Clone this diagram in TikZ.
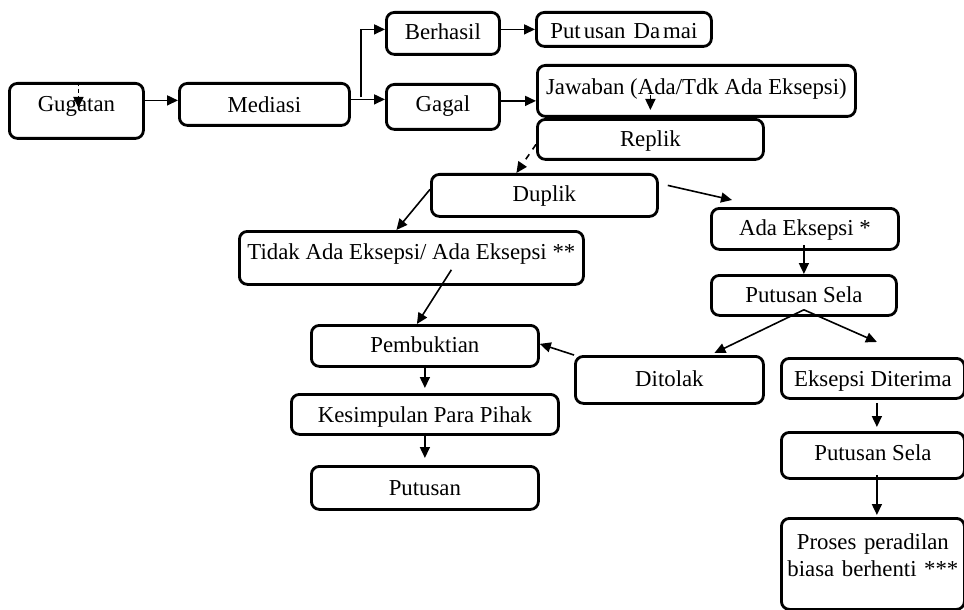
\documentclass[tikz,border=0pt]{standalone}
\usepackage{fontspec}
\setmainfont{Liberation Serif}
\usetikzlibrary{arrows.meta}

\begin{document}
\begin{tikzpicture}[x=0.5pt, y=-0.5pt,
  box/.style={draw, line width=1.4pt, rounded corners=4pt, anchor=north west, inner xsep=0pt, inner ysep=0pt, font=\fontsize{11.4}{13.5}\selectfont},
  arr/.style={line width=0.8pt, -{Triangle[length=5.5pt,width=5pt]}}]
% Fix the picture size (pixel units)
\useasboundingbox (0,0) rectangle (964,610);

% Draw the boxes
\node[box, minimum width=67pt, text height=14pt, text depth=13.5pt] (gugatan) at (8,82) {Gugatan};
\node[box, minimum width=85pt, text height=14.5pt, text depth=6.5pt] (mediasi) at (178,82) {Mediasi};
\node[box, minimum width=56.5pt, text height=13.5pt, text depth=7.5pt] (berhasil) at (385,11) {Berhasil};
\node[box, minimum width=56.5pt, text height=13.5pt, text depth=9pt] (gagal) at (385,83) {Gagal};
\node[box, minimum width=87.5pt, text height=13pt, text depth=4pt] (damai) at (535,11) {Put\hspace{1.5pt}usan\hspace{4pt}Da\hspace{1.5pt}mai};
\node[box, minimum width=159pt, text height=14.5pt, text depth=11pt] (jawaban) at (536,64) {Jawaban (Ada/Tdk Ada Eksepsi)};
\node[box, minimum width=113pt, text height=13.5pt, text depth=6.5pt] (replik) at (536,118) {Replik};
\node[box, minimum width=113pt, text height=13.5pt, text depth=7.5pt] (duplik) at (430,173) {Duplik};
\node[box, minimum width=172pt, text height=14pt, text depth=12.5pt] (tidak) at (238,230) {Tidak Ada Eksepsi/ Ada Eksepsi **};
\node[box, minimum width=93.5pt, text height=13.5pt, text depth=7pt] (ada) at (710,207) {Ada Eksepsi *};
\node[box, minimum width=92.5pt, text height=13.5pt, text depth=6.5pt] (sela) at (710,274) {Putusan Sela};
\node[box, minimum width=94pt, text height=15pt, text depth=8.5pt] (ditolak) at (574,355) {Ditolak};
\node[box, minimum width=91.5pt, text height=14pt, text depth=6pt] (diterima) at (780,357) {Eksepsi Diterima};
\node[box, minimum width=113.5pt, text height=13.5pt, text depth=7pt] (bukti) at (310,324) {Pembuktian};
\node[box, minimum width=133.5pt, text height=14pt, text depth=6pt] (simpulan) at (290,393) {Kesimpulan Para Pihak};
\node[box, minimum width=113.5pt, text height=14.5pt, text depth=7pt] (putusan) at (310,465) {Putusan};
\node[box, minimum width=91.5pt, text height=14pt, text depth=9pt] (seladua) at (780,431) {Putusan Sela};
\node[box, text width=91.5pt, align=center, text height=15.5pt, text depth=30pt] (proses) at (780,517) {Proses peradilan\\biasa berhenti ***};

% Draw the arrows
\draw[arr, dash pattern=on 2pt off 1.5pt] ([xshift=1pt]gugatan.north) -- ([xshift=1pt,yshift=-13pt]gugatan.north);
\draw[arr] ([yshift=2pt]gugatan.east |- mediasi.west) -- ([yshift=2pt]mediasi.west);
\draw[arr] ([yshift=2.5pt]mediasi.east) -- ([yshift=2.5pt]mediasi.east -| gagal.west);
\draw[arr] ([xshift=5pt,yshift=3.5pt]mediasi.east) |- ([yshift=2pt]berhasil.west);
\draw[arr] (damai.west -| berhasil.east) -- (damai.west);
\draw[arr] ([yshift=3pt]gagal.east) -- ([yshift=3pt]gagal.east -| jawaban.west);
\draw[arr] ([yshift=11.5pt]replik.north) -- ([yshift=4pt]replik.north);
\draw[arr, dashed] ([yshift=-2.5pt]replik.west) -- ([xshift=-14pt]duplik.north);
\draw[arr] ([yshift=3pt]duplik.west) -- ([xshift=-7.5pt]tidak.north);
\draw[arr] ([xshift=4.5pt,yshift=5pt]duplik.east) -- ([xshift=11pt,yshift=3.5pt]ada.north west);
\draw[arr] ([xshift=20pt,yshift=8pt]tidak.south) -- ([xshift=-4pt]bukti.north);
\draw[arr] ([yshift=3pt]sela.north |- ada.south) -- (sela.north);
\draw[arr] ([yshift=3.5pt]sela.south) -- ([xshift=22.5pt,yshift=1pt]ditolak.north);
\draw[arr] ([yshift=3.5pt]sela.south) -- ([xshift=2pt,yshift=7.5pt]diterima.north);
\draw[arr] (ditolak.north west) -- ([yshift=1pt]bukti.east);
\draw[arr] ([yshift=1.5pt]bukti.south) -- ([yshift=2.5pt]simpulan.north);
\draw[arr] ([yshift=1.5pt]simpulan.south) -- ([yshift=3.5pt]putusan.north);
\draw[arr] ([xshift=2pt,yshift=-1.5pt]diterima.south) -- ([xshift=2pt,yshift=2pt]seladua.north);
\draw[arr] ([xshift=2pt,yshift=2.5pt]seladua.south) -- ([xshift=2pt,yshift=1pt]proses.north);
\end{tikzpicture}
\end{document}
